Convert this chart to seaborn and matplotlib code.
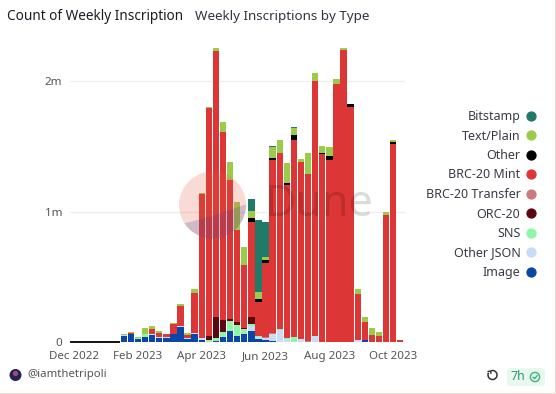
import pandas as pd
import seaborn as sns
import matplotlib.pyplot as plt
from matplotlib.lines import Line2D
from matplotlib.patches import Arc, Circle, FancyBboxPatch, Polygon, Rectangle

# weekly values in thousands, oldest week first
weeks = [d.strftime('%Y-%m-%d') for d in pd.date_range('2022-12-05', periods=47, freq='7D')]
tick_pos = [0, 9, 18, 27, 36, 45]
tick_labels = ['Dec 2022', 'Feb 2023', 'Apr 2023', 'Jun 2023', 'Aug 2023', 'Oct 2023']

lead = [0, 0, 0, 0, 0, 0, 0]
image = lead + [51, 61, 26, 41, 54, 36, 33, 61, 117, 23, 66, 18, 3, 13, 41, 87, 51, 64, 87, 28,
                18, 10, 5, 0, 0, 0, 0, 0, 0, 0, 0, 0, 0, 0, 18, 3, 3, 3, 3, 0]
other_json = lead + [3, 3, 0, 0, 13, 5, 5, 5, 8, 8, 8, 13, 0, 0, 0, 0, 0, 0, 41, 13,
                     18, 56, 87, 26, 0, 28, 0, 46, 5, 5, 5, 3, 3, 15, 3, 0, 0, 0, 0, 0]
sns_ins = lead + [3, 3, 8, 23, 0, 0, 0, 0, 0, 0, 0, 0, 13, 23, 41, 79, 84, 36, 15, 10,
                  0, 0, 8, 5, 38, 0, 0, 0, 0, 0, 0, 0, 0, 0, 0, 0, 0, 0, 0, 0]
orc20 = lead + [0, 0, 0, 0, 0, 0, 0, 0, 0, 0, 0, 0, 36, 156, 89, 10, 18, 8, 54, 0,
                0, 0, 0, 0, 0, 0, 0, 0, 0, 0, 0, 0, 0, 0, 0, 0, 0, 0, 0, 0]
transfer = lead + [0, 0, 0, 0, 0, 0, 0, 0, 0, 0, 0, 0, 0, 0, 0, 0, 0, 0, 0, 0,
                   8, 8, 0, 0, 0, 0, 13, 0, 0, 0, 0, 0, 0, 0, 0, 0, 0, 0, 0, 0]
mint = lead + [0, 3, 0, 0, 36, 33, 23, 74, 156, 28, 306, 1106, 1742, 2041, 1443, 1068, 707, 483, 725, 258,
               564, 1326, 1351, 1175, 1515, 1354, 1277, 1956, 1438, 1392, 1977, 2240, 1801, 355, 138, 56, 49, 973, 1520, 15]
other = lead + [0, 0, 0, 0, 0, 0, 0, 0, 0, 0, 0, 0, 0, 0, 0, 0, 0, 0, 31, 23,
                26, 15, 0, 18, 36, 0, 0, 0, 8, 33, 0, 0, 23, 0, 0, 0, 0, 0, 13, 0]
text_plain = lead + [3, 8, 10, 49, 23, 10, 5, 8, 10, 13, 31, 10, 10, 23, 72, 138, 212, 138, 51, 56,
                     20, 82, 97, 151, 54, 23, 161, 61, 54, 66, 36, 10, 0, 41, 33, 51, 26, 26, 15, 0]
bitstamp = lead + [0, 0, 0, 0, 0, 0, 0, 0, 0, 0, 0, 0, 0, 0, 0, 0, 0, 0, 94, 552,
                   271, 5, 5, 0, 5, 0, 0, 0, 0, 0, 0, 0, 0, 0, 0, 0, 0, 0, 0, 0]

types = ['Bitstamp', 'Text/Plain', 'Other', 'BRC-20 Mint', 'BRC-20 Transfer', 'ORC-20', 'SNS', 'Other JSON', 'Image']
series = [bitstamp, text_plain, other, mint, transfer, orc20, sns_ins, other_json, image]
colors = ['#1f7a68', '#9ccb4c', '#000000', '#dc3636', '#c97b7e', '#5a0812', '#8ff7a3', '#c9dbf6', '#0a46a6']

W, H = 556, 394


def px(x, y):
    return x / W, 1 - y / H


sns.set_theme(style='white')
plt.rcParams['font.family'] = ['Noto Sans', 'DejaVu Sans']

rows = []
for name, vals in zip(types, series):
    for week, v in zip(weeks, vals):
        rows.append({'week': week, 'type': name, 'count': v * 1000})
df = pd.DataFrame(rows)

fig = plt.figure(figsize=(W / 100, H / 100), dpi=100, facecolor='white')
left, top = px(70, 40)
right, bottom = px(405, 342.3)
ax = fig.add_axes([left, bottom, right - left, top - bottom])

sns.histplot(data=df, x='week', weights='count', hue='type', hue_order=types,
             palette=dict(zip(types, colors)), multiple='stack', discrete=True,
             shrink=0.9, alpha=1, linewidth=0, legend=False, ax=ax)

# the empty weeks at the start show only as a dark line
ax.hlines(0, -0.59, 6.5, color='black', lw=1.3, clip_on=False, zorder=5)

ax.set_xlim(-0.59, 46.67)
ax.set_ylim(0, 2316000)
ax.set_xlabel('')
ax.set_ylabel('')
ax.set_yticks([0, 1000000, 2000000])
ax.set_yticklabels(['0', '1m', '2m'], fontsize=8.4, color='#555555')
ax.set_xticks(tick_pos)
ax.set_xticklabels(tick_labels, fontsize=8.3, color='#555555')
ax.tick_params(axis='both', length=0)
ax.tick_params(axis='x', pad=6)
ax.tick_params(axis='y', pad=5.5)
ax.grid(axis='y', color='#eeeeee', lw=0.9)
ax.set_axisbelow(True)
sns.despine(ax=ax, left=True, bottom=True)

# titles
fig.text(*px(7, 16.5), 'Count of Weekly Inscription', fontsize=9.8, fontweight='bold', color='#1b1b24', va='center')
fig.text(*px(195, 16.5), 'Weekly Inscriptions by Type', fontsize=9.65, color='#33333f', va='center')

# legend
handles = [Line2D([0], [0], marker='o', ls='', color=c, markersize=6.4, label=t) for t, c in zip(types, colors)]
fig.legend(handles=handles, loc='center right', bbox_to_anchor=px(537, 194.5), frameon=False, markerfirst=False,
           fontsize=9.0, labelspacing=0.52, handlelength=1, handletextpad=0.33, labelcolor='#3a3a46',
           borderpad=0, borderaxespad=0)

# Dune watermark
cx, cy = 212.5, H - 205
fig.add_artist(Circle((cx, cy), 33.5, transform=None, facecolor='#e8573f', alpha=0.22, edgecolor='none', zorder=10))
wm_blue = Polygon([(170, H - 226), (190, H - 222), (212, H - 216), (250, H - 203), (250, H - 245), (170, H - 245)],
                  closed=True, transform=None, facecolor='#2c3a9a', alpha=0.2, edgecolor='none', zorder=11)
fig.add_artist(wm_blue)
wm_blue.set_clip_path(Circle((cx, cy), 33.5, transform=None))
fig.text(*px(265, 205), 'Dune', fontsize=31, fontweight='bold', color='#000000', alpha=0.14, va='center', zorder=12)

# footer
fig.add_artist(Circle((15.5, H - 375), 6, transform=None, facecolor='#27234f', edgecolor='none'))
fig.add_artist(Circle((15.5, H - 373.5), 2.6, transform=None, facecolor='#a0468c', edgecolor='none'))
fig.text(*px(27, 375), '@iamthetripoli', fontsize=8.2, color='#555555', va='center')

fig.add_artist(Arc((492.5, H - 375), 9, 9, theta1=-210, theta2=110, transform=None, color='#333333', lw=1.1))
fig.add_artist(Line2D([488, 490.5, 491], [H - 371.5, H - 371, H - 373.5], transform=None, color='#333333', lw=1.0))

fig.add_artist(FancyBboxPatch((507, H - 386), 38, 18, boxstyle='round,pad=0,rounding_size=4', transform=None,
                              facecolor='#e8f8ef', edgecolor='none'))
fig.text(*px(511, 376.5), '7h', fontsize=9, color='#2f9e6e', va='center')
fig.add_artist(Circle((535, H - 377), 4.6, transform=None, facecolor='none', edgecolor='#3fb27f', lw=1.0))
fig.add_artist(Line2D([533, 534.6, 537.2], [H - 377.1, H - 378.8, H - 375.5], transform=None, color='#3fb27f', lw=1.0))

# card border on the right and bottom
fig.add_artist(Rectangle((0, 0), W, 1.3, transform=None, facecolor='#f5d8cd', edgecolor='none'))
fig.add_artist(Rectangle((W - 1.3, 0), 1.3, H, transform=None, facecolor='#f5d8cd', edgecolor='none'))

fig.savefig('out.png', dpi=100)
